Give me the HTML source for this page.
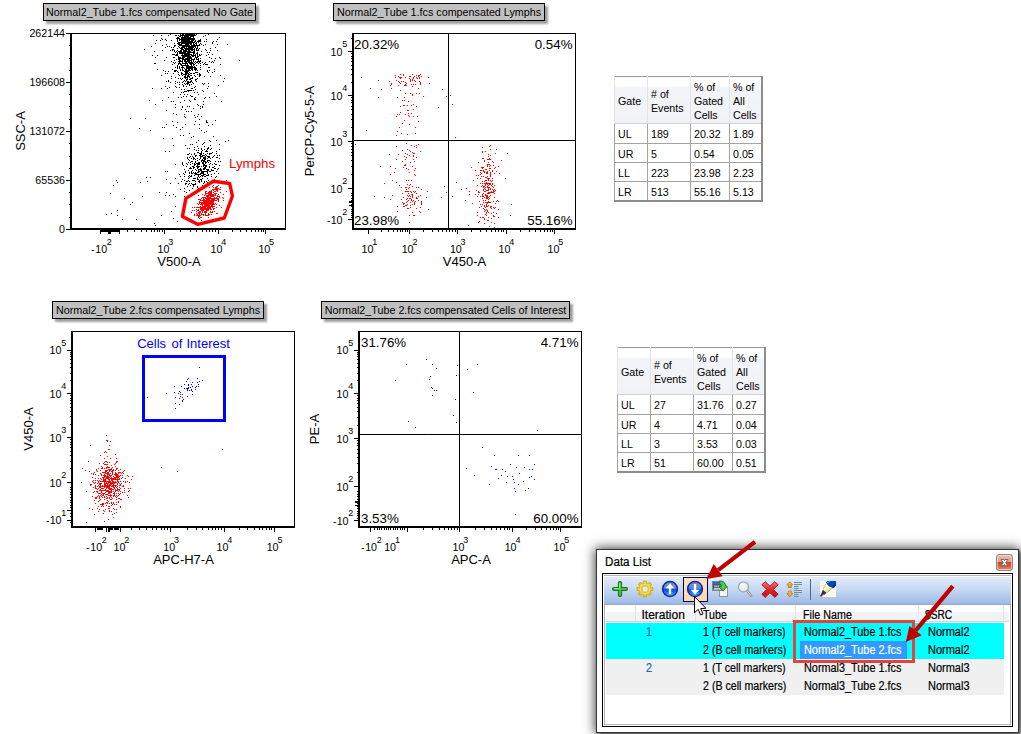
<!DOCTYPE html><html><head><meta charset="utf-8"><title>Data List</title><style>
html,body{margin:0;padding:0;background:#fff}
body{width:1021px;height:734px;position:relative;overflow:hidden;font-family:"Liberation Sans",sans-serif;color:#000}
.ttl{position:absolute;height:16px;border:1px solid #000;background:#c0c0c0;font-size:10.76px;line-height:17px;white-space:nowrap;box-shadow:3px 3px 2px rgba(0,0,0,.38);box-sizing:content-box;text-align:center}
table.st{position:absolute;border-collapse:collapse;font-size:10.67px;table-layout:fixed;border-right:2px solid #8c8c8c;border-bottom:2px solid #8c8c8c;border-left:1px solid #a0a0a0;border-top:1px solid #9a9a9a}
table.st td{border:1px solid #a3a3a3;padding:2px 0 0 3px;height:19.35px;box-sizing:border-box;white-space:nowrap;line-height:14px}
table.st th{font-weight:normal;text-align:left;padding:2px 0 0 3px;line-height:14px;height:47.2px;box-sizing:border-box;background:linear-gradient(#fff 0,#fff 18%,#f3f4f7 22%,#f1f2f6 100%);border-left:1px solid #e3e4e8;border-right:1px solid #e3e4e8;border-bottom:1px solid #d0d2d8;vertical-align:middle}
#dlg{position:absolute;left:596px;top:549px;width:423px;height:184px;box-sizing:border-box;border:1px solid #343434;background:#fff;box-shadow:0 0 11px 1px rgba(0,0,0,.75),2px 2px 3px rgba(0,0,0,.45)}
#dlg .cap{position:absolute;left:7.5px;top:5px;-webkit-text-stroke:.2px #000;font-size:12px;line-height:14px;transform:scaleX(.97);transform-origin:0 0;white-space:nowrap}
#dlg .close{position:absolute;left:399px;top:4px;width:17px;height:17px;box-sizing:border-box;border:1px solid #8c8684;border-radius:3px;background:linear-gradient(#f3bcae 0,#e59a86 45%,#c9481f 50%,#d9623c 75%,#e88a68 100%);box-shadow:inset 0 0 0 1px rgba(255,255,255,.5)}
#inner{position:absolute;left:5px;top:23px;width:411px;height:154px;box-sizing:border-box;border:1px solid #000;background:#fff}
#inner2{position:absolute;left:1px;top:31px;right:1px;bottom:1px;border-left:1px solid #b2b6be;border-right:1px solid #b2b6be;border-bottom:1px solid #b2b6be}
#tb{position:absolute;left:1px;top:0;right:1px;height:31px;background:linear-gradient(#fff 0,#fff 1px,#b4b4b4 1px,#b4b4b4 2px,#fff 2px,#fff 3px,#e3edfb 3px,#c2d5f1 17px,#9bb9e8 30px,#9aa8c0 30px,#9aa8c0 31px)}
#hdr{position:absolute;left:3px;top:31px;right:3px;height:16px;background:linear-gradient(#fff 0,#fff 7px,#f3f4f6 7px,#f1f2f4 16px);border-bottom:1px solid #d4d4d4}
.h{position:absolute;top:34px;font-size:12px;line-height:14px;white-space:nowrap;transform-origin:0 0;-webkit-text-stroke:.2px #000}
.hs{position:absolute;top:32px;width:1px;height:15px;background:#dfe2e8}
.row{position:absolute;left:2px;width:398px;height:18px}
.c{position:absolute;font-size:12px;line-height:18px;white-space:nowrap;transform:scaleX(.9);transform-origin:0 0;-webkit-text-stroke:.2px}
</style></head><body><svg width="1021" height="734" viewBox="0 0 1021 734" style="position:absolute;left:0;top:0" shape-rendering="crispEdges" font-family="Liberation Sans, sans-serif"><rect x="70" y="33" width="2" height="197" fill="#000"/><rect x="70" y="228" width="216" height="2" fill="#000"/><rect x="70" y="33" width="216" height="1" fill="#000"/><rect x="285" y="33" width="1" height="197" fill="#000"/><rect x="66" y="33" width="4" height="1" fill="#000"/><rect x="66" y="82" width="4" height="1" fill="#000"/><rect x="66" y="131" width="4" height="1" fill="#000"/><rect x="66" y="180" width="4" height="1" fill="#000"/><rect x="66" y="229" width="4" height="1" fill="#000"/><rect x="68.5" y="45" width="1.5" height="1" fill="#000"/><rect x="68.5" y="58" width="1.5" height="1" fill="#000"/><rect x="68.5" y="70" width="1.5" height="1" fill="#000"/><rect x="68.5" y="94" width="1.5" height="1" fill="#000"/><rect x="68.5" y="106" width="1.5" height="1" fill="#000"/><rect x="68.5" y="119" width="1.5" height="1" fill="#000"/><rect x="68.5" y="143" width="1.5" height="1" fill="#000"/><rect x="68.5" y="156" width="1.5" height="1" fill="#000"/><rect x="68.5" y="168" width="1.5" height="1" fill="#000"/><rect x="68.5" y="192" width="1.5" height="1" fill="#000"/><rect x="68.5" y="204" width="1.5" height="1" fill="#000"/><rect x="68.5" y="217" width="1.5" height="1" fill="#000"/><text x="65" y="37" font-size="10.67" text-anchor="end" fill="#000" >262144</text><text x="65" y="86" font-size="10.67" text-anchor="end" fill="#000" >196608</text><text x="65" y="135" font-size="10.67" text-anchor="end" fill="#000" >131072</text><text x="65" y="184" font-size="10.67" text-anchor="end" fill="#000" >65536</text><text x="65" y="233" font-size="10.67" text-anchor="end" fill="#000" >0</text><rect x="100" y="230" width="1" height="4" fill="#000"/><rect x="109" y="230" width="1" height="4" fill="#000"/><rect x="119" y="230" width="1" height="4" fill="#000"/><rect x="164" y="230" width="1" height="4" fill="#000"/><rect x="218" y="230" width="1" height="4" fill="#000"/><rect x="265" y="230" width="1" height="4" fill="#000"/><rect x="180" y="230" width="1" height="2" fill="#000"/><rect x="190" y="230" width="1" height="2" fill="#000"/><rect x="196" y="230" width="1" height="2" fill="#000"/><rect x="202" y="230" width="1" height="2" fill="#000"/><rect x="206" y="230" width="1" height="2" fill="#000"/><rect x="209" y="230" width="1" height="2" fill="#000"/><rect x="212" y="230" width="1" height="2" fill="#000"/><rect x="215" y="230" width="1" height="2" fill="#000"/><rect x="232" y="230" width="1" height="2" fill="#000"/><rect x="240" y="230" width="1" height="2" fill="#000"/><rect x="246" y="230" width="1" height="2" fill="#000"/><rect x="251" y="230" width="1" height="2" fill="#000"/><rect x="255" y="230" width="1" height="2" fill="#000"/><rect x="258" y="230" width="1" height="2" fill="#000"/><rect x="261" y="230" width="1" height="2" fill="#000"/><rect x="263" y="230" width="1" height="2" fill="#000"/><rect x="127" y="230" width="1" height="2" fill="#000"/><rect x="134" y="230" width="1" height="2" fill="#000"/><rect x="141" y="230" width="1" height="2" fill="#000"/><rect x="146" y="230" width="1" height="2" fill="#000"/><rect x="151" y="230" width="1" height="2" fill="#000"/><rect x="154" y="230" width="1" height="2" fill="#000"/><rect x="157" y="230" width="1" height="2" fill="#000"/><rect x="159" y="230" width="1" height="2" fill="#000"/><rect x="162" y="230" width="1" height="2" fill="#000"/><rect x="100.5" y="230" width="18.0" height="2" fill="#000"/><rect x="108" y="230" width="3" height="4" fill="#000"/><text x="91.1" y="253" font-size="10.67" text-anchor="start" fill="#000" >-</text><text x="95.3" y="253" font-size="10.67" text-anchor="start" fill="#000" >10</text><text x="106.8" y="245" font-size="9" text-anchor="start" fill="#000" >2</text><text x="157.5" y="253" font-size="10.67" text-anchor="start" fill="#000" >10</text><text x="168.2" y="245" font-size="9" text-anchor="start" fill="#000" >3</text><text x="210.6" y="253" font-size="10.67" text-anchor="start" fill="#000" >10</text><text x="221.3" y="245" font-size="9" text-anchor="start" fill="#000" >4</text><text x="258.4" y="253" font-size="10.67" text-anchor="start" fill="#000" >10</text><text x="269.1" y="245" font-size="9" text-anchor="start" fill="#000" >5</text><text x="179" y="266" font-size="13" text-anchor="middle" fill="#000" >V500-A</text><text transform="translate(25,131) rotate(-90)" font-size="13" text-anchor="middle">SSC-A</text><path d="M186 41h1M185 39h1M182 42h1M187 84h1M184 38h1M184 37h1M190 48h1M189 60h1M180 50h1M185 41h1M177 41h1M186 50h1M188 35h1M174 71h1M187 34h1M188 44h1M182 39h1M183 40h1M193 38h1M187 37h1M186 44h1M188 52h1M187 57h1M187 58h1M194 62h1M179 62h1M191 66h1M188 37h1M197 56h1M181 44h1M187 40h1M190 57h1M194 59h1M183 38h1M188 36h1M188 48h1M181 35h1M184 52h1M186 73h1M192 39h1M177 65h1M185 44h1M194 52h1M191 64h1M186 34h1M195 45h1M185 52h1M185 62h1M189 63h1M186 63h1M186 66h1M181 53h1M185 38h1M193 46h1M192 67h1M187 53h1M190 44h1M180 58h1M178 46h1M199 44h1M183 63h1M190 79h1M191 45h1M187 55h1M188 43h1M183 55h1M188 46h1M187 38h1M184 94h1M177 66h1M181 39h1M189 38h1M176 54h1M191 57h1M178 64h1M191 46h1M188 50h1M179 51h1M193 67h1M194 48h1M187 60h1M186 69h1M186 43h1M187 70h1M184 63h1M180 51h1M194 73h1M186 59h1M192 38h1M187 36h1M183 42h1M185 43h1M187 39h1M185 71h1M180 45h1M196 44h1M184 56h1M189 55h1M179 61h1M178 43h1M187 44h1M183 70h1M189 45h1M184 45h1M181 67h1M181 74h1M194 41h1M184 36h1M185 91h1M184 54h1M190 64h1M185 50h1M187 65h1M191 36h1M184 57h1M180 48h1M192 47h1M190 41h1M190 43h1M192 48h1M197 78h1M178 57h1M182 34h1M187 72h1M191 34h1M187 46h1M183 50h1M182 52h1M178 51h1M189 48h1M182 35h1M182 54h1M188 70h1M189 90h1M198 58h1M180 63h1M192 59h1M187 43h1M179 52h1M187 94h1M185 75h1M187 68h1M176 70h1M177 40h1M181 42h1M193 37h1M188 38h1M187 77h1M191 63h1M188 34h1M182 57h1M183 35h1M180 42h1M186 71h1M180 44h1M191 68h1M189 85h1M173 49h1M181 55h1M186 46h1M186 45h1M193 52h1M178 37h1M192 42h1M192 49h1M186 54h1M186 72h1M187 56h1M190 68h1M184 68h1M190 90h1M181 43h1M186 49h1M179 63h1M186 42h1M183 85h1M183 45h1M185 65h1M181 45h1M194 38h1M182 60h1M193 90h1M195 56h1M188 39h1M190 37h1M195 54h1M182 36h1M184 71h1M189 50h1M186 74h1M188 55h1M189 68h1M185 35h1M187 54h1M188 91h1M190 62h1M197 72h1M177 48h1M186 37h1M185 49h1M199 62h1M188 54h1M181 38h1M187 51h1M186 48h1M181 97h1M193 59h1M193 47h1M190 67h1M185 69h1M180 36h1M191 42h1M188 53h1M192 40h1M182 70h1M177 68h1M194 42h1M190 70h1M194 46h1M181 64h1M200 58h1M186 40h1M195 41h1M178 78h1M185 40h1M193 54h1M189 53h1M182 37h1M183 56h1M182 47h1M180 64h1M179 82h1M191 48h1M183 37h1M183 34h1M187 52h1M181 61h1M193 44h1M179 60h1M190 46h1M189 42h1M182 48h1M177 43h1M185 46h1M187 45h1M197 57h1M179 36h1M182 62h1M191 44h1M185 81h1M181 37h1M192 52h1M186 79h1M179 44h1M182 68h1M194 45h1M191 52h1M182 38h1M177 39h1M187 35h1M183 46h1M188 69h1M186 56h1M182 55h1M180 34h1M182 40h1M186 51h1M184 51h1M188 49h1M185 64h1M189 46h1M188 60h1M188 47h1M184 43h1M188 67h1M179 43h1M190 42h1M192 35h1M186 47h1M174 45h1M179 38h1M180 52h1M195 57h1M186 53h1M180 35h1M188 83h1M190 63h1M193 73h1M189 62h1M182 61h1M178 56h1M189 37h1M184 59h1M175 83h1M184 74h1M187 49h1M173 47h1M196 59h1M193 43h1M184 46h1M187 42h1M192 62h1M197 53h1M187 48h1M188 57h1M194 49h1M186 58h1M190 47h1M185 54h1M193 53h1M188 75h1M182 67h1M185 59h1M184 61h1M199 76h1M197 46h1M195 47h1M189 61h1M188 51h1M193 51h1M191 47h1M182 41h1M185 60h1M200 60h1M192 70h1M198 59h1M185 61h1M193 40h1M190 56h1M197 50h1M196 48h1M176 59h1M191 59h1M178 35h1M189 79h1M185 34h1M175 81h1M188 58h1M197 47h1M178 74h1M181 51h1M189 35h1M189 51h1M178 59h1M187 67h1M197 55h1M194 35h1M191 39h1M195 40h1M187 61h1M185 37h1M190 78h1M191 65h1M181 49h1M186 39h1M192 82h1M195 46h1M184 40h1M195 80h1M184 53h1M190 75h1M190 34h1M194 39h1M179 58h1M182 43h1M176 38h1M195 69h1M182 49h1M177 53h1M189 47h1M193 45h1M189 59h1M190 39h1M183 52h1M192 34h1M200 41h1M185 73h1M181 40h1M182 75h1M182 66h1M185 45h1M186 91h1M178 42h1M195 55h1M200 39h1M191 54h1M193 65h1M178 44h1M188 59h1M192 36h1M198 40h1M196 65h1M186 80h1M181 72h1M193 56h1M199 55h1M198 50h1M188 40h1M194 50h1M188 68h1M184 41h1M191 40h1M185 76h1M186 70h1M184 60h1M181 73h1M180 60h1M192 78h1M191 80h1M184 76h1M185 70h1M193 39h1M192 50h1M193 34h1M199 41h1M197 62h1M196 58h1M177 38h1M190 36h1M191 49h1M175 55h1M189 41h1M179 87h1M187 64h1M186 62h1M189 49h1M189 52h1M185 51h1M198 49h1M189 69h1M196 49h1M192 56h1M185 74h1M186 35h1M183 49h1M186 67h1M188 45h1M187 75h1M190 52h1M196 34h1M190 54h1M191 41h1M196 42h1M177 67h1M183 57h1M193 49h1M181 89h1M185 58h1M192 45h1M185 77h1M179 47h1M191 43h1M197 48h1M192 68h1M193 83h1M183 59h1M182 59h1M181 58h1M186 38h1M187 76h1M182 63h1M184 80h1M198 60h1M179 68h1M189 67h1M185 42h1M185 36h1M186 68h1M192 77h1M194 34h1M183 47h1M184 35h1M193 42h1M177 54h1M193 64h1M196 43h1M192 55h1M200 43h1M188 65h1M190 60h1M184 55h1M188 42h1M172 50h1M179 42h1M185 53h1M183 74h1M187 82h1M186 61h1M190 49h1M188 71h1M194 64h1M193 36h1M185 78h1M181 41h1M182 69h1M186 65h1M191 67h1M198 41h1M191 50h1M188 41h1M183 51h1M181 92h1M182 45h1M187 41h1M188 56h1M190 73h1M184 42h1M187 78h1M189 56h1M183 67h1M186 36h1M197 70h1M188 62h1M189 40h1M177 37h1M193 61h1M185 63h1M190 51h1M190 58h1M192 41h1M184 91h1M179 75h1M187 66h1M180 57h1M194 67h1M189 54h1M191 69h1M183 41h1M189 66h1M184 65h1M191 61h1M187 71h1M191 58h1M188 74h1M189 39h1M191 73h1M189 57h1M192 46h1M179 45h1M195 63h1M181 52h1M178 58h1M186 83h1M178 61h1M179 66h1M192 69h1M196 68h1M185 56h1M182 56h1M185 48h1M182 82h1M191 35h1M187 63h1M197 45h1M182 73h1M186 86h1M175 52h1M194 53h1M191 60h1M184 50h1M189 34h1M181 50h1M194 69h1M190 82h1M182 53h1M185 84h1M187 83h1M187 59h1M185 55h1M189 72h1M182 46h1M189 58h1M195 67h1M184 83h1M184 100h1M197 59h1M194 55h1M188 81h1M183 81h1M181 48h1M193 63h1M193 35h1M190 66h1M196 72h1M181 47h1M182 84h1M189 43h1M200 63h1M183 53h1M184 47h1M185 72h1M183 58h1M184 89h1M181 65h1M196 57h1M180 53h1M188 76h1M195 43h1M188 82h1M189 77h1M180 61h1M193 60h1M180 39h1M186 77h1M193 55h1M186 55h1M192 66h1M194 44h1M219 57h1M175 67h1M206 50h1M199 61h1M195 35h1M197 61h1M214 71h1M199 75h1M195 70h1M209 61h1M203 64h1M194 68h1M217 44h1M197 52h1M172 64h1M191 81h1M189 82h1M192 96h1M174 51h1M178 72h1M169 87h1M189 84h1M205 44h1M208 83h1M175 70h1M186 96h1M161 88h1M199 45h1M166 44h1M208 54h1M205 49h1M182 106h1M208 67h1M184 39h1M213 62h1M177 82h1M174 63h1M188 61h1M182 58h1M177 52h1M209 70h1M161 75h1M199 74h1M214 69h1M167 88h1M200 65h1M179 67h1M205 64h1M179 84h1M166 81h1M171 101h1M179 57h1M173 54h1M208 72h1M210 50h1M212 61h1M197 74h1M157 69h1M171 40h1M195 76h1M176 51h1M183 39h1M174 57h1M174 60h1M178 63h1M217 50h1M161 35h1M189 100h1M188 66h1M191 75h1M173 57h1M176 55h1M192 88h1M172 69h1M197 41h1M161 38h1M216 41h1M206 55h1M179 39h1M224 78h1M172 54h1M203 36h1M172 49h1M227 44h1M175 35h1M200 40h1M170 34h1M196 62h1M191 38h1M207 64h1M205 35h1M194 58h1M171 76h1M187 73h1M176 87h1M214 60h1M223 81h1M183 43h1M209 52h1M196 53h1M191 62h1M200 74h1M178 38h1M191 88h1M207 70h1M174 54h1M157 55h1M165 73h1M208 34h1M173 62h1M162 39h1M215 47h1M168 97h1M191 55h1M180 69h1M160 40h1M204 76h1M183 96h1M189 76h1M183 65h1M194 51h1M219 37h1M192 63h1M177 71h1M220 75h1M151 46h1M200 75h1M171 78h1M196 79h1M215 58h1M174 50h1M164 60h1M184 48h1M154 63h1M212 42h1M207 71h1M182 78h1M213 41h1M212 43h1M155 57h1M174 43h1M217 39h1M183 86h1M167 46h1M187 90h1M184 77h1M176 35h1M195 86h1M198 45h1M195 68h1M206 64h1M211 58h1M182 107h1M203 45h1M197 54h1M165 39h1M195 72h1M201 44h1M202 62h1M168 35h1M206 39h1M180 78h1M156 40h1M174 70h1M196 69h1M190 35h1M204 83h1M195 79h1M179 40h1M199 54h1M194 75h1M189 70h1M216 96h1M153 35h1M154 51h1M194 99h1M198 42h1M177 50h1M201 51h1M165 71h1M220 58h1M170 82h1M196 45h1M194 66h1M209 67h1M163 70h1M199 40h1M200 55h1M175 77h1M170 50h1M175 86h1M199 48h1M155 63h1M200 61h1M173 101h1M173 73h1M169 46h1M212 72h1M187 81h1M167 73h1M212 54h1M201 54h1M200 67h1M189 74h1M191 78h1M174 46h1M205 62h1M155 43h1M210 48h1M239 60h1M180 70h1M181 79h1M195 61h1M196 50h1M166 40h1M198 56h1M165 47h1M177 55h1M166 57h1M190 38h1M171 61h1M179 59h1M175 45h1M204 41h1M149 100h1M162 45h1M179 53h1M191 90h1M175 71h1M220 64h1M204 63h1M207 52h1M168 71h1M171 47h1M206 41h1M191 137h1M201 116h1M194 87h1M198 105h1M166 124h1M204 132h1M218 85h1M206 122h1M186 111h1M180 129h1M193 136h1M178 97h1M199 73h1M184 114h1M202 144h1M206 120h1M166 110h1M194 158h1M173 125h1M183 92h1M187 106h1M202 107h1M172 138h1M203 84h1M214 93h1M197 116h1M190 95h1M176 114h1M196 81h1M195 97h1M199 128h1M221 101h1M199 119h1M195 117h1M209 97h1M176 127h1M185 109h1M182 127h1M198 61h1M208 86h1M185 117h1M197 104h1M200 108h1M177 122h1M194 98h1M198 114h1M193 108h1M209 57h1M205 97h1M180 135h1M191 96h1M180 102h1M197 92h1M180 94h1M201 130h1M195 99h1M202 83h1M173 92h1M211 62h1M207 122h1M195 121h1M198 63h1M212 124h1M194 115h1M207 88h1M172 121h1M200 69h1M187 79h1M188 73h1M190 81h1M194 124h1M210 76h1M168 80h1M191 84h1M181 109h1M204 98h1M185 124h1M195 89h1M198 94h1M202 106h1M191 111h1M173 145h1M194 92h1M200 106h1M183 135h1M203 91h1M165 86h1M168 81h1M173 113h1M184 116h1M190 101h1M189 106h1M189 133h1M199 124h1M175 104h1M175 107h1M215 120h1M162 100h1M188 90h1M198 164h1M188 178h1M201 169h1M197 164h1M205 163h1M194 163h1M198 174h1M194 178h1M193 168h1M207 182h1M198 150h1M205 161h1M193 186h1M202 160h1M189 153h1M198 181h1M197 172h1M206 150h1M203 172h1M200 154h1M207 148h1M203 162h1M205 158h1M207 151h1M201 161h1M199 155h1M204 164h1M198 166h1M204 171h1M209 156h1M208 148h1M198 152h1M192 166h1M201 181h1M200 174h1M209 154h1M198 176h1M200 153h1M207 173h1M198 162h1M200 173h1M214 166h1M212 157h1M206 166h1M203 153h1M194 167h1M205 174h1M203 171h1M197 167h1M201 154h1M200 176h1M204 146h1M212 152h1M204 167h1M189 157h1M194 184h1M189 181h1M195 161h1M205 157h1M204 149h1M197 152h1M203 168h1M195 174h1M191 173h1M191 172h1M195 162h1M212 164h1M191 154h1M210 161h1M211 176h1M200 179h1M201 160h1M197 163h1M201 179h1M206 181h1M201 149h1M209 157h1M210 163h1M204 176h1M204 155h1M201 172h1M204 160h1M193 193h1M204 168h1M203 163h1M195 164h1M217 169h1M194 175h1M195 156h1M203 166h1M187 157h1M195 159h1M190 156h1M194 154h1M200 158h1M209 167h1M207 170h1M210 158h1M206 151h1M198 175h1M209 140h1M197 146h1M196 174h1M213 167h1M207 172h1M207 149h1M208 156h1M191 175h1M200 157h1M192 161h1M202 150h1M196 155h1M211 169h1M205 168h1M195 155h1M201 153h1M192 163h1M201 170h1M205 151h1M187 148h1M199 153h1M205 167h1M203 173h1M210 149h1M191 161h1M205 171h1M196 163h1M203 158h1M204 169h1M206 165h1M197 178h1M202 172h1M190 168h1M205 162h1M201 151h1M189 160h1M195 178h1M201 148h1M213 170h1M209 164h1M207 161h1M188 176h1M200 170h1M205 176h1M204 159h1M204 161h1M199 163h1M214 179h1M212 170h1M200 155h1M194 164h1M216 151h1M194 149h1M203 175h1M198 171h1M205 156h1M216 153h1M201 175h1M210 145h1M199 180h1M218 173h1M195 172h1M197 179h1M201 171h1M193 180h1M185 172h1M209 153h1M197 174h1M198 188h1M194 147h1M193 166h1M202 175h1M219 144h1M207 160h1M207 185h1M190 185h1M201 156h1M192 184h1M207 175h1M199 174h1M200 168h1M197 158h1M190 164h1M191 171h1M192 188h1M199 162h1M196 142h1M203 161h1M203 165h1M207 178h1M187 164h1M194 165h1M192 156h1M201 180h1M198 140h1M205 154h1M209 166h1M184 169h1M201 173h1M216 157h1M208 157h1M202 162h1M193 157h1M206 155h1M208 169h1M196 173h1M199 166h1M203 157h1M198 148h1M213 156h1M217 155h1M200 156h1M215 161h1M197 160h1M184 191h1M208 170h1M198 179h1M219 158h1M204 174h1M202 173h1M188 184h1M208 125h1M208 147h1M202 171h1M204 158h1M208 174h1M202 178h1M214 155h1M199 181h1M197 186h1M198 172h1M182 163h1M195 183h1M209 160h1M203 160h1M195 169h1M186 183h1M206 169h1M208 160h1M215 168h1M189 168h1M186 166h1M206 175h1M203 164h1M197 165h1M199 171h1M207 171h1M214 168h1M189 175h1M211 170h1M206 171h1M206 131h1M202 155h1M219 149h1M202 163h1M205 165h1M187 181h1M196 166h1M201 166h1M204 182h1M214 163h1M193 185h1M198 170h1M203 143h1M192 173h1M205 159h1M206 162h1M199 177h1M215 164h1M203 174h1M194 173h1M189 172h1M196 170h1M199 169h1M198 163h1M207 158h1M183 173h1M193 159h1M187 158h1M211 174h1M193 167h1M208 162h1M198 167h1M186 163h1M210 171h1M204 157h1M210 141h1M209 171h1M194 180h1M187 154h1M182 179h1M197 177h1M167 171h1M190 176h1M188 180h1M207 169h1M185 145h1M188 159h1M169 151h1M165 171h1M195 181h1M188 162h1M186 181h1M182 164h1M193 158h1M165 195h1M207 153h1M191 183h1M193 184h1M216 140h1M211 148h1M196 150h1M203 155h1M188 154h1M212 167h1M208 175h1M203 169h1M192 170h1M204 181h1M184 188h1M197 168h1M191 168h1M189 173h1M205 186h1M202 176h1M216 164h1M175 178h1M192 144h1M202 188h1M193 178h1M189 190h1M197 187h1M203 183h1M202 156h1M192 180h1M201 152h1M175 164h1M186 192h1M194 153h1M185 171h1M200 169h1M175 196h1M182 162h1M218 168h1M190 144h1M191 176h1M197 189h1M195 184h1M216 171h1M199 182h1M211 153h1M184 174h1M218 161h1M185 183h1M207 156h1M202 159h1M226 180h1M193 172h1M199 159h1M208 180h1M180 176h1M184 196h1M215 177h1M205 166h1M183 165h1M210 153h1M189 183h1M195 173h1M173 194h1M206 121h1M204 142h1M184 180h1M189 177h1M220 161h1M213 136h1M187 186h1M219 155h1M217 157h1M189 148h1M197 166h1M184 176h1M191 158h1M190 167h1M190 162h1M179 174h1M216 176h1M166 192h1M188 170h1M178 183h1M185 184h1M199 164h1M214 173h1M202 185h1M204 165h1M181 181h1M154 223h1M111 213h1M147 181h1M170 183h1M166 179h1M159 192h1M106 214h1M140 182h1M124 198h1M146 177h1M117 210h1M116 180h1M181 215h1M175 206h1M113 185h1M171 211h1M110 193h1M132 202h1M185 203h1M180 189h1M142 196h1M161 215h1M136 219h1M173 218h1M130 204h1M122 219h1M117 182h1M155 225h1M150 177h1M177 221h1M117 215h1M169 195h1M163 138h1M202 90h1M150 130h1M203 101h1M155 104h1M203 104h1M152 88h1M182 65h1M219 165h1M175 62h1M228 140h1M188 111h1M165 151h1M225 141h1M162 127h1M198 169h1M144 49h1M164 127h1M145 118h1M162 50h1M152 55h1M130 118h1M139 128h1" stroke="#000" stroke-width="1" fill="none" transform="translate(0,.5)"/><path d="M212 199h1M209 200h1M205 206h1M211 204h1M210 203h1M198 212h1M211 203h1M208 203h1M206 204h1M205 207h1M216 186h1M215 203h1M217 188h1M202 212h1M204 206h1M212 205h1M201 208h1M204 201h1M198 216h1M217 196h1M213 199h1M210 201h1M209 207h1M205 209h1M206 206h1M211 192h1M204 204h1M214 198h1M205 215h1M203 209h1M214 197h1M207 210h1M210 200h1M205 204h1M196 213h1M210 192h1M201 214h1M213 201h1M200 208h1M198 204h1M209 203h1M210 209h1M208 199h1M201 202h1M212 201h1M200 200h1M205 192h1M206 201h1M212 198h1M204 202h1M210 202h1M211 199h1M199 207h1M202 205h1M206 208h1M205 211h1M198 215h1M211 194h1M207 202h1M201 210h1M208 194h1M205 213h1M207 200h1M211 201h1M205 203h1M215 193h1M196 215h1M210 193h1M200 206h1M208 210h1M203 201h1M208 207h1M207 198h1M206 205h1M218 200h1M208 202h1M203 200h1M212 200h1M212 211h1M214 189h1M216 198h1M203 207h1M213 198h1M213 196h1M208 201h1M209 208h1M205 200h1M216 204h1M199 203h1M210 207h1M199 216h1M207 215h1M217 191h1M214 204h1M194 215h1M209 204h1M206 196h1M207 196h1M223 194h1M206 195h1M203 215h1M207 206h1M211 198h1M201 207h1M207 209h1M205 212h1M213 200h1M203 198h1M209 205h1M217 199h1M215 194h1M207 208h1M212 206h1M200 215h1M209 192h1M210 198h1M207 201h1M212 194h1M207 203h1M204 211h1M215 198h1M216 197h1M209 202h1M207 204h1M201 217h1M209 187h1M200 211h1M210 195h1M200 199h1M215 195h1M208 196h1M202 211h1M214 193h1M213 208h1M219 189h1M202 204h1M209 195h1M202 209h1M209 214h1M202 200h1M203 214h1M201 198h1M215 188h1M201 203h1M204 212h1M206 202h1M206 203h1M208 209h1M212 195h1M211 209h1M197 207h1M218 198h1M209 191h1M205 198h1M202 202h1M206 209h1M206 199h1M204 208h1M200 207h1M206 215h1M208 197h1M201 213h1M199 211h1M203 208h1M211 205h1M207 193h1M206 200h1M211 202h1M205 191h1M212 202h1M213 195h1M211 193h1M212 207h1M210 208h1M208 217h1M220 187h1M206 198h1M202 214h1M199 218h1M209 197h1M208 208h1M209 201h1M202 207h1M197 214h1M211 196h1M204 207h1M205 205h1M215 189h1M215 191h1M204 199h1M212 203h1M208 195h1M208 193h1M207 205h1M210 211h1M208 204h1M204 205h1M200 209h1M204 203h1M208 214h1M213 187h1M208 205h1M196 209h1M208 200h1M203 210h1M218 188h1M203 203h1M211 200h1M213 192h1M208 198h1M211 195h1M212 204h1M204 197h1M212 186h1M211 191h1M208 192h1M200 212h1M212 189h1M212 212h1M209 199h1M206 212h1M216 187h1M216 188h1M217 190h1M203 197h1M213 194h1M210 204h1M214 199h1M210 212h1M217 186h1M213 189h1M213 209h1M214 206h1M206 210h1M209 198h1M205 208h1M210 196h1M205 202h1M199 213h1M196 211h1M198 217h1M198 213h1M215 187h1M205 197h1M216 200h1M217 189h1M219 196h1M201 209h1M204 200h1M206 193h1M205 214h1M201 204h1M200 217h1M209 194h1M218 194h1M217 198h1M210 206h1M207 197h1M208 206h1M197 210h1M216 190h1M213 202h1M201 200h1M204 195h1M201 220h1M209 206h1M212 196h1M203 206h1M205 201h1M216 193h1M209 193h1M218 185h1M207 199h1M208 215h1M210 194h1M206 191h1M213 206h1M197 215h1M207 195h1M198 210h1M205 193h1M199 214h1M203 199h1M218 199h1M205 194h1M207 207h1M216 189h1M218 196h1M199 212h1M199 215h1M213 190h1M214 200h1M220 192h1M202 203h1M200 202h1M214 191h1M210 197h1M198 207h1M197 203h1M213 185h1M213 203h1M198 209h1M218 201h1M219 197h1M199 201h1M217 195h1M192 210h1M203 202h1M196 207h1M199 199h1M198 195h1M211 214h1M217 213h1M219 205h1M199 202h1M216 207h1M214 195h1M223 200h1M198 199h1M194 207h1M214 208h1M206 211h1M223 198h1M204 209h1M222 197h1M202 194h1M194 214h1M216 213h1M211 190h1M208 213h1M200 204h1M211 206h1M221 207h1M202 206h1M220 189h1M213 204h1M192 207h1M215 200h1M210 191h1M202 210h1M194 210h1M226 191h1M211 212h1M202 208h1M214 211h1M191 212h1M202 197h1" stroke="#f00" stroke-width="1" fill="none" transform="translate(0,.5)"/><polygon points="213.3,181.2 229.7,183.5 232.4,196 224.3,218 197.6,224.3 182.4,216.4 185.9,198.4" fill="none" stroke="#f00" stroke-width="3.4" stroke-linejoin="round" shape-rendering="auto"/><text x="229" y="168" font-size="13.33" text-anchor="start" fill="#f00" >Lymphs</text><rect x="352" y="33" width="2" height="197" fill="#000"/><rect x="352" y="228" width="224" height="2" fill="#000"/><rect x="352" y="33" width="224" height="1" fill="#000"/><rect x="575" y="33" width="1" height="197" fill="#000"/><rect x="448" y="33" width="1" height="195" fill="#000"/><rect x="352" y="140" width="223" height="1" fill="#000"/><rect x="348" y="51" width="4" height="1" fill="#000"/><rect x="348" y="95" width="4" height="1" fill="#000"/><rect x="348" y="141" width="4" height="1" fill="#000"/><rect x="348" y="188" width="4" height="1" fill="#000"/><rect x="348" y="219" width="4" height="1" fill="#000"/><rect x="350.5" y="82" width="1.5" height="1" fill="#000"/><rect x="350.5" y="74" width="1.5" height="1" fill="#000"/><rect x="350.5" y="69" width="1.5" height="1" fill="#000"/><rect x="350.5" y="65" width="1.5" height="1" fill="#000"/><rect x="350.5" y="61" width="1.5" height="1" fill="#000"/><rect x="350.5" y="58" width="1.5" height="1" fill="#000"/><rect x="350.5" y="56" width="1.5" height="1" fill="#000"/><rect x="350.5" y="53" width="1.5" height="1" fill="#000"/><rect x="350.5" y="127" width="1.5" height="1" fill="#000"/><rect x="350.5" y="119" width="1.5" height="1" fill="#000"/><rect x="350.5" y="114" width="1.5" height="1" fill="#000"/><rect x="350.5" y="109" width="1.5" height="1" fill="#000"/><rect x="350.5" y="106" width="1.5" height="1" fill="#000"/><rect x="350.5" y="102" width="1.5" height="1" fill="#000"/><rect x="350.5" y="100" width="1.5" height="1" fill="#000"/><rect x="350.5" y="97" width="1.5" height="1" fill="#000"/><rect x="350.5" y="174" width="1.5" height="1" fill="#000"/><rect x="350.5" y="166" width="1.5" height="1" fill="#000"/><rect x="350.5" y="160" width="1.5" height="1" fill="#000"/><rect x="350.5" y="155" width="1.5" height="1" fill="#000"/><rect x="350.5" y="152" width="1.5" height="1" fill="#000"/><rect x="350.5" y="149" width="1.5" height="1" fill="#000"/><rect x="350.5" y="146" width="1.5" height="1" fill="#000"/><rect x="350.5" y="143" width="1.5" height="1" fill="#000"/><rect x="350.5" y="38" width="1.5" height="1" fill="#000"/><rect x="350.5" y="193" width="1.5" height="1" fill="#000"/><rect x="350.5" y="195" width="1.5" height="1" fill="#000"/><rect x="350.5" y="198" width="1.5" height="1" fill="#000"/><rect x="350.5" y="200" width="1.5" height="1" fill="#000"/><rect x="350.5" y="202" width="1.5" height="1" fill="#000"/><rect x="350.5" y="204" width="1.5" height="1" fill="#000"/><rect x="350.5" y="206" width="1.5" height="1" fill="#000"/><rect x="350.5" y="209" width="1.5" height="1" fill="#000"/><rect x="350.5" y="211" width="1.5" height="1" fill="#000"/><rect x="350.5" y="213" width="1.5" height="1" fill="#000"/><rect x="350.5" y="215" width="1.5" height="1" fill="#000"/><rect x="350.5" y="217" width="1.5" height="1" fill="#000"/><rect x="349" y="201" width="3" height="2" fill="#000"/><rect x="349" y="205" width="3" height="1" fill="#000"/><text x="330.6" y="56.0" font-size="10.67" text-anchor="start" fill="#000" >10</text><text x="342.2" y="47.4" font-size="9" text-anchor="start" fill="#000" >5</text><text x="330.6" y="99.89999999999999" font-size="10.67" text-anchor="start" fill="#000" >10</text><text x="342.2" y="91.3" font-size="9" text-anchor="start" fill="#000" >4</text><text x="330.6" y="145.9" font-size="10.67" text-anchor="start" fill="#000" >10</text><text x="342.2" y="137.3" font-size="9" text-anchor="start" fill="#000" >3</text><text x="330.6" y="193.0" font-size="10.67" text-anchor="start" fill="#000" >10</text><text x="342.2" y="184.4" font-size="9" text-anchor="start" fill="#000" >2</text><text x="327.1" y="223.9" font-size="10.67" text-anchor="start" fill="#000" >-10</text><text x="342.2" y="215.3" font-size="9" text-anchor="start" fill="#000" >2</text><rect x="368" y="230" width="1" height="4" fill="#000"/><rect x="409" y="230" width="1" height="4" fill="#000"/><rect x="457" y="230" width="1" height="4" fill="#000"/><rect x="506" y="230" width="1" height="4" fill="#000"/><rect x="554" y="230" width="1" height="4" fill="#000"/><rect x="381" y="230" width="1" height="2" fill="#000"/><rect x="388" y="230" width="1" height="2" fill="#000"/><rect x="393" y="230" width="1" height="2" fill="#000"/><rect x="397" y="230" width="1" height="2" fill="#000"/><rect x="400" y="230" width="1" height="2" fill="#000"/><rect x="402" y="230" width="1" height="2" fill="#000"/><rect x="405" y="230" width="1" height="2" fill="#000"/><rect x="407" y="230" width="1" height="2" fill="#000"/><rect x="423" y="230" width="1" height="2" fill="#000"/><rect x="432" y="230" width="1" height="2" fill="#000"/><rect x="438" y="230" width="1" height="2" fill="#000"/><rect x="442" y="230" width="1" height="2" fill="#000"/><rect x="446" y="230" width="1" height="2" fill="#000"/><rect x="449" y="230" width="1" height="2" fill="#000"/><rect x="452" y="230" width="1" height="2" fill="#000"/><rect x="455" y="230" width="1" height="2" fill="#000"/><rect x="471" y="230" width="1" height="2" fill="#000"/><rect x="480" y="230" width="1" height="2" fill="#000"/><rect x="486" y="230" width="1" height="2" fill="#000"/><rect x="491" y="230" width="1" height="2" fill="#000"/><rect x="495" y="230" width="1" height="2" fill="#000"/><rect x="498" y="230" width="1" height="2" fill="#000"/><rect x="501" y="230" width="1" height="2" fill="#000"/><rect x="503" y="230" width="1" height="2" fill="#000"/><rect x="520" y="230" width="1" height="2" fill="#000"/><rect x="529" y="230" width="1" height="2" fill="#000"/><rect x="535" y="230" width="1" height="2" fill="#000"/><rect x="540" y="230" width="1" height="2" fill="#000"/><rect x="544" y="230" width="1" height="2" fill="#000"/><rect x="547" y="230" width="1" height="2" fill="#000"/><rect x="550" y="230" width="1" height="2" fill="#000"/><rect x="552" y="230" width="1" height="2" fill="#000"/><text x="361.6" y="253" font-size="10.67" text-anchor="start" fill="#000" >10</text><text x="372.3" y="245" font-size="9" text-anchor="start" fill="#000" >1</text><text x="401.7" y="253" font-size="10.67" text-anchor="start" fill="#000" >10</text><text x="412.4" y="245" font-size="9" text-anchor="start" fill="#000" >2</text><text x="449.9" y="253" font-size="10.67" text-anchor="start" fill="#000" >10</text><text x="460.6" y="245" font-size="9" text-anchor="start" fill="#000" >3</text><text x="498.6" y="253" font-size="10.67" text-anchor="start" fill="#000" >10</text><text x="509.3" y="245" font-size="9" text-anchor="start" fill="#000" >4</text><text x="547.5" y="253" font-size="10.67" text-anchor="start" fill="#000" >10</text><text x="558.2" y="245" font-size="9" text-anchor="start" fill="#000" >5</text><text x="464.5" y="265.5" font-size="13" text-anchor="middle" fill="#000" >V450-A</text><text transform="translate(314.2,131) rotate(-90)" font-size="13" text-anchor="middle">PerCP-Cy5-5-A</text><text x="354" y="49" font-size="13.33" text-anchor="start" fill="#000" >20.32%</text><text x="572.5" y="49" font-size="13.33" text-anchor="end" fill="#000" >0.54%</text><text x="354" y="225" font-size="13.33" text-anchor="start" fill="#000" >23.98%</text><text x="572.5" y="225" font-size="13.33" text-anchor="end" fill="#000" >55.16%</text><path d="M416 75h1M415 84h1M410 76h1M410 79h1M405 82h1M420 83h1M405 85h1M401 81h1M409 76h1M419 75h1M419 81h1M410 80h1M405 77h1M414 76h1M409 78h1M416 77h1M417 78h1M413 78h1M420 82h1M412 79h1M412 80h1M400 77h1M411 84h1M415 81h1M406 83h1M399 77h1M404 85h1M400 78h1M395 77h1M418 75h1M420 74h1M418 76h1M414 80h1M412 74h1M403 74h1M400 74h1M413 77h1M410 81h1M421 76h1M405 84h1M398 81h1M395 75h1M398 76h1M420 84h1M398 85h1M399 82h1M413 84h1M403 75h1M406 85h1M429 83h1M391 83h1M400 83h1M419 77h1M389 81h1M403 81h1M401 77h1M428 77h1M419 78h1M396 80h1M396 116h1M408 115h1M407 134h1M400 90h1M415 127h1M423 96h1M418 121h1M397 131h1M418 88h1M409 116h1M407 105h1M403 105h1M408 110h1M419 93h1M412 94h1M404 120h1M402 123h1M404 100h1M412 86h1M399 127h1M405 93h1M402 100h1M411 113h1M396 135h1M400 112h1M417 116h1M410 93h1M412 95h1M404 97h1M405 114h1M411 105h1M404 105h1M399 114h1M408 113h1M415 133h1M400 106h1M416 93h1M413 109h1M401 133h1M408 101h1M407 110h1M413 104h1M413 116h1M397 114h1M397 97h1M416 106h1M409 124h1M391 88h1M390 85h1M378 80h1M378 97h1M391 84h1M370 88h1M381 89h1M361 77h1M366 130h1M442 89h1M446 96h1M438 107h1M452 104h1M450 95h1M455 137h1M406 205h1M420 207h1M408 188h1M412 201h1M402 193h1M408 191h1M409 185h1M409 187h1M407 201h1M412 196h1M421 203h1M410 191h1M410 196h1M408 196h1M427 191h1M421 189h1M414 203h1M415 201h1M406 191h1M410 198h1M412 204h1M412 212h1M405 191h1M406 202h1M414 215h1M413 200h1M397 206h1M411 180h1M419 211h1M407 198h1M412 186h1M402 202h1M416 208h1M404 206h1M403 206h1M409 198h1M426 197h1M407 195h1M403 197h1M414 202h1M421 202h1M403 203h1M401 199h1M409 215h1M413 215h1M413 191h1M418 196h1M401 187h1M406 189h1M410 202h1M416 193h1M414 192h1M404 203h1M416 197h1M417 198h1M428 209h1M421 204h1M403 204h1M407 191h1M406 199h1M408 193h1M405 205h1M407 204h1M408 208h1M415 191h1M410 207h1M411 200h1M420 195h1M412 197h1M411 199h1M411 194h1M414 204h1M406 187h1M418 200h1M421 201h1M418 187h1M408 200h1M408 180h1M412 195h1M416 198h1M410 205h1M409 195h1M420 212h1M407 208h1M415 168h1M410 162h1M402 161h1M412 152h1M414 161h1M405 187h1M394 172h1M412 194h1M410 151h1M396 146h1M408 169h1M406 168h1M413 153h1M413 159h1M395 168h1M404 165h1M414 174h1M418 144h1M392 180h1M406 143h1M412 166h1M416 145h1M420 151h1M399 185h1M404 156h1M398 154h1M413 156h1M396 159h1M416 187h1M414 146h1M411 145h1M390 174h1M396 182h1M405 164h1M406 157h1M414 153h1M409 150h1M409 155h1M403 167h1M407 184h1M406 180h1M413 155h1M405 153h1M415 175h1M416 157h1M405 159h1M416 147h1M407 149h1M414 170h1M402 150h1M407 154h1M405 165h1M374 196h1M410 184h1M390 166h1M390 199h1M389 154h1M384 197h1M380 166h1M411 192h1M397 211h1M392 195h1M409 172h1M384 183h1M355 144h1M444 186h1M446 192h1M441 197h1M409 222h1M486 202h1M482 198h1M482 158h1M487 196h1M490 172h1M479 201h1M487 187h1M489 178h1M488 190h1M483 170h1M492 184h1M482 185h1M490 176h1M494 185h1M478 162h1M488 188h1M489 159h1M488 189h1M484 186h1M486 190h1M481 170h1M490 175h1M484 181h1M483 167h1M485 202h1M487 171h1M487 195h1M487 164h1M487 184h1M481 173h1M475 194h1M490 174h1M493 165h1M481 186h1M484 160h1M488 164h1M491 191h1M490 149h1M493 191h1M487 173h1M489 164h1M489 183h1M485 189h1M492 170h1M491 192h1M485 191h1M492 178h1M482 167h1M475 170h1M483 190h1M490 189h1M485 184h1M488 202h1M480 174h1M494 173h1M490 173h1M487 210h1M489 146h1M489 184h1M493 187h1M488 180h1M480 217h1M486 198h1M493 192h1M490 165h1M485 187h1M490 183h1M480 172h1M490 206h1M486 196h1M496 149h1M486 197h1M488 197h1M485 177h1M484 172h1M487 190h1M481 167h1M478 192h1M493 162h1M487 165h1M492 180h1M488 156h1M490 188h1M490 159h1M482 195h1M492 171h1M483 189h1M488 183h1M499 173h1M495 153h1M485 169h1M490 168h1M487 206h1M489 196h1M483 158h1M483 193h1M483 187h1M490 192h1M484 171h1M483 176h1M482 183h1M485 183h1M488 179h1M486 169h1M495 167h1M485 185h1M478 194h1M488 185h1M487 166h1M488 192h1M480 183h1M492 189h1M487 198h1M480 178h1M489 170h1M493 212h1M485 195h1M482 152h1M488 187h1M483 171h1M489 198h1M482 181h1M486 177h1M486 182h1M487 186h1M485 180h1M487 178h1M484 188h1M488 162h1M486 180h1M477 178h1M487 172h1M488 159h1M489 166h1M491 181h1M492 186h1M490 155h1M489 187h1M489 168h1M487 176h1M488 178h1M487 193h1M489 192h1M483 208h1M484 183h1M486 172h1M476 190h1M488 205h1M477 185h1M496 171h1M490 184h1M482 168h1M484 197h1M490 145h1M490 180h1M482 151h1M477 212h1M487 183h1M484 161h1M489 193h1M494 168h1M494 189h1M492 161h1M494 191h1M487 159h1M488 201h1M485 151h1M484 206h1M487 203h1M491 206h1M486 183h1M486 209h1M494 216h1M478 191h1M497 200h1M491 185h1M482 217h1M485 210h1M489 202h1M488 199h1M484 219h1M483 186h1M491 218h1M487 211h1M498 201h1M483 196h1M491 222h1M483 202h1M493 215h1M483 200h1M486 205h1M492 192h1M481 206h1M493 207h1M490 202h1M495 190h1M490 195h1M488 217h1M496 201h1M494 197h1M483 217h1M486 215h1M485 200h1M491 213h1M487 197h1M494 208h1M484 223h1M488 220h1M485 214h1M486 195h1M487 220h1M493 190h1M488 193h1M480 196h1M486 204h1M484 218h1M493 216h1M490 207h1M489 226h1M496 213h1M494 227h1M484 211h1M487 202h1M485 194h1M484 209h1M479 192h1M494 193h1M482 204h1M484 205h1M479 221h1M491 208h1M486 212h1M482 194h1M485 207h1M478 222h1M494 223h1M488 154h1M482 196h1M477 215h1M495 203h1M489 158h1M480 204h1M465 200h1M476 175h1M495 207h1M477 196h1M482 147h1M507 153h1M472 203h1M473 180h1M469 194h1M486 173h1M505 178h1M498 166h1M484 191h1M481 176h1M486 206h1M493 201h1M471 167h1M468 225h1M501 160h1M498 209h1M486 213h1M479 207h1M488 212h1M498 217h1M480 170h1M492 183h1M478 175h1M456 182h1M461 189h1M469 191h1M466 188h1M452 196h1M511 204h1M510 215h1" stroke="#f00" stroke-width="1" fill="none" transform="translate(0,.5)"/><rect x="71" y="331" width="2" height="197" fill="#000"/><rect x="71" y="526" width="224" height="2" fill="#000"/><rect x="71" y="331" width="224" height="1" fill="#000"/><rect x="294" y="331" width="1" height="197" fill="#000"/><rect x="67" y="350" width="4" height="1" fill="#000"/><rect x="67" y="393" width="4" height="1" fill="#000"/><rect x="67" y="437" width="4" height="1" fill="#000"/><rect x="67" y="482" width="4" height="1" fill="#000"/><rect x="67" y="510" width="4" height="1" fill="#000"/><rect x="67" y="520" width="4" height="1" fill="#000"/><rect x="69.5" y="380" width="1.5" height="1" fill="#000"/><rect x="69.5" y="373" width="1.5" height="1" fill="#000"/><rect x="69.5" y="367" width="1.5" height="1" fill="#000"/><rect x="69.5" y="363" width="1.5" height="1" fill="#000"/><rect x="69.5" y="359" width="1.5" height="1" fill="#000"/><rect x="69.5" y="356" width="1.5" height="1" fill="#000"/><rect x="69.5" y="354" width="1.5" height="1" fill="#000"/><rect x="69.5" y="352" width="1.5" height="1" fill="#000"/><rect x="69.5" y="424" width="1.5" height="1" fill="#000"/><rect x="69.5" y="416" width="1.5" height="1" fill="#000"/><rect x="69.5" y="411" width="1.5" height="1" fill="#000"/><rect x="69.5" y="407" width="1.5" height="1" fill="#000"/><rect x="69.5" y="403" width="1.5" height="1" fill="#000"/><rect x="69.5" y="400" width="1.5" height="1" fill="#000"/><rect x="69.5" y="398" width="1.5" height="1" fill="#000"/><rect x="69.5" y="395" width="1.5" height="1" fill="#000"/><rect x="69.5" y="468" width="1.5" height="1" fill="#000"/><rect x="69.5" y="461" width="1.5" height="1" fill="#000"/><rect x="69.5" y="455" width="1.5" height="1" fill="#000"/><rect x="69.5" y="451" width="1.5" height="1" fill="#000"/><rect x="69.5" y="447" width="1.5" height="1" fill="#000"/><rect x="69.5" y="444" width="1.5" height="1" fill="#000"/><rect x="69.5" y="442" width="1.5" height="1" fill="#000"/><rect x="69.5" y="439" width="1.5" height="1" fill="#000"/><rect x="69.5" y="487" width="1.5" height="1" fill="#000"/><rect x="69.5" y="489" width="1.5" height="1" fill="#000"/><rect x="69.5" y="492" width="1.5" height="1" fill="#000"/><rect x="69.5" y="494" width="1.5" height="1" fill="#000"/><rect x="69.5" y="497" width="1.5" height="1" fill="#000"/><rect x="69.5" y="500" width="1.5" height="1" fill="#000"/><rect x="69.5" y="502" width="1.5" height="1" fill="#000"/><rect x="69.5" y="505" width="1.5" height="1" fill="#000"/><rect x="69.5" y="507" width="1.5" height="1" fill="#000"/><rect x="69.5" y="513" width="1.5" height="1" fill="#000"/><rect x="69.5" y="516" width="1.5" height="1" fill="#000"/><rect x="69.5" y="522" width="1.5" height="1" fill="#000"/><text x="49.6" y="354.20000000000005" font-size="10.67" text-anchor="start" fill="#000" >10</text><text x="61.2" y="345.6" font-size="9" text-anchor="start" fill="#000" >5</text><text x="49.6" y="398.0" font-size="10.67" text-anchor="start" fill="#000" >10</text><text x="61.2" y="389.4" font-size="9" text-anchor="start" fill="#000" >4</text><text x="49.6" y="441.90000000000003" font-size="10.67" text-anchor="start" fill="#000" >10</text><text x="61.2" y="433.3" font-size="9" text-anchor="start" fill="#000" >3</text><text x="49.6" y="486.5" font-size="10.67" text-anchor="start" fill="#000" >10</text><text x="61.2" y="477.9" font-size="9" text-anchor="start" fill="#000" >2</text><text x="46.1" y="524.2" font-size="10.67" text-anchor="start" fill="#000" >-10</text><text x="61.2" y="515.6" font-size="9" text-anchor="start" fill="#000" >1</text><rect x="95" y="528" width="1" height="4" fill="#000"/><rect x="120" y="528" width="1" height="4" fill="#000"/><rect x="170" y="528" width="1" height="4" fill="#000"/><rect x="224" y="528" width="1" height="4" fill="#000"/><rect x="274" y="528" width="1" height="4" fill="#000"/><rect x="187" y="528" width="1" height="2" fill="#000"/><rect x="196" y="528" width="1" height="2" fill="#000"/><rect x="202" y="528" width="1" height="2" fill="#000"/><rect x="208" y="528" width="1" height="2" fill="#000"/><rect x="212" y="528" width="1" height="2" fill="#000"/><rect x="215" y="528" width="1" height="2" fill="#000"/><rect x="218" y="528" width="1" height="2" fill="#000"/><rect x="221" y="528" width="1" height="2" fill="#000"/><rect x="239" y="528" width="1" height="2" fill="#000"/><rect x="247" y="528" width="1" height="2" fill="#000"/><rect x="254" y="528" width="1" height="2" fill="#000"/><rect x="259" y="528" width="1" height="2" fill="#000"/><rect x="262" y="528" width="1" height="2" fill="#000"/><rect x="266" y="528" width="1" height="2" fill="#000"/><rect x="269" y="528" width="1" height="2" fill="#000"/><rect x="271" y="528" width="1" height="2" fill="#000"/><rect x="131" y="528" width="1" height="2" fill="#000"/><rect x="139" y="528" width="1" height="2" fill="#000"/><rect x="146" y="528" width="1" height="2" fill="#000"/><rect x="152" y="528" width="1" height="2" fill="#000"/><rect x="156" y="528" width="1" height="2" fill="#000"/><rect x="161" y="528" width="1" height="2" fill="#000"/><rect x="164" y="528" width="1" height="2" fill="#000"/><rect x="167" y="528" width="1" height="2" fill="#000"/><rect x="96.5" y="528" width="6.5" height="2" fill="#000"/><rect x="106" y="528" width="1" height="4" fill="#000"/><rect x="108" y="528" width="1.5" height="4" fill="#000"/><rect x="109.5" y="528" width="3.3" height="2" fill="#000"/><rect x="113.8" y="528" width="4.9" height="2" fill="#000"/><text x="86.1" y="551" font-size="10.67" text-anchor="start" fill="#000" >-</text><text x="90.3" y="551" font-size="10.67" text-anchor="start" fill="#000" >10</text><text x="101.8" y="543" font-size="9" text-anchor="start" fill="#000" >2</text><text x="113.5" y="551" font-size="10.67" text-anchor="start" fill="#000" >10</text><text x="124.2" y="543" font-size="9" text-anchor="start" fill="#000" >2</text><text x="163.3" y="551" font-size="10.67" text-anchor="start" fill="#000" >10</text><text x="174.0" y="543" font-size="9" text-anchor="start" fill="#000" >3</text><text x="216.6" y="551" font-size="10.67" text-anchor="start" fill="#000" >10</text><text x="227.3" y="543" font-size="9" text-anchor="start" fill="#000" >4</text><text x="266.7" y="551" font-size="10.67" text-anchor="start" fill="#000" >10</text><text x="277.4" y="543" font-size="9" text-anchor="start" fill="#000" >5</text><text x="183.5" y="564" font-size="13" text-anchor="middle" fill="#000" >APC-H7-A</text><text transform="translate(32.6,429) rotate(-90)" font-size="13" text-anchor="middle">V450-A</text><path d="M118 475h1M103 477h1M117 474h1M112 478h1M97 489h1M101 486h1M104 490h1M109 491h1M115 474h1M107 484h1M115 491h1M96 497h1M85 470h1M105 470h1M111 484h1M105 478h1M100 473h1M111 483h1M122 475h1M107 464h1M103 480h1M102 481h1M123 485h1M108 487h1M113 481h1M117 478h1M116 475h1M101 468h1M115 477h1M114 487h1M112 485h1M116 495h1M104 479h1M107 467h1M104 486h1M114 488h1M103 472h1M111 469h1M100 481h1M107 485h1M105 472h1M107 478h1M109 475h1M107 472h1M106 471h1M92 481h1M116 477h1M103 475h1M106 461h1M102 493h1M115 473h1M101 479h1M112 472h1M117 483h1M120 469h1M117 481h1M113 479h1M99 487h1M118 472h1M117 475h1M114 478h1M114 495h1M109 470h1M104 482h1M118 482h1M100 485h1M115 481h1M110 482h1M115 482h1M110 476h1M116 479h1M116 468h1M115 478h1M98 475h1M108 485h1M100 483h1M113 483h1M98 488h1M115 463h1M121 483h1M104 480h1M115 479h1M111 471h1M113 484h1M113 487h1M109 479h1M114 485h1M116 493h1M110 489h1M118 481h1M110 481h1M116 482h1M112 486h1M104 475h1M114 474h1M108 476h1M111 465h1M100 486h1M111 480h1M118 479h1M105 483h1M95 482h1M110 475h1M103 494h1M122 477h1M108 493h1M104 476h1M104 474h1M102 488h1M108 478h1M102 472h1M118 489h1M100 487h1M108 474h1M103 488h1M98 481h1M121 499h1M93 492h1M119 476h1M98 478h1M109 474h1M125 481h1M93 480h1M98 485h1M110 469h1M108 490h1M101 488h1M119 479h1M105 479h1M109 480h1M117 468h1M123 486h1M104 462h1M105 490h1M104 464h1M96 491h1M94 483h1M109 469h1M117 488h1M113 478h1M107 486h1M108 473h1M122 486h1M106 468h1M105 473h1M96 470h1M111 489h1M106 467h1M122 472h1M106 485h1M114 482h1M115 496h1M120 493h1M99 484h1M120 485h1M108 467h1M107 474h1M106 478h1M106 470h1M91 473h1M112 474h1M109 488h1M101 483h1M125 478h1M111 482h1M105 475h1M121 478h1M102 468h1M104 487h1M107 483h1M114 483h1M103 495h1M107 481h1M109 471h1M103 486h1M109 486h1M101 481h1M107 475h1M102 467h1M104 477h1M107 466h1M102 485h1M119 485h1M115 470h1M109 481h1M115 485h1M111 478h1M106 486h1M128 488h1M105 484h1M113 486h1M125 482h1M111 477h1M116 474h1M117 477h1M113 476h1M120 481h1M112 479h1M127 481h1M110 491h1M109 489h1M118 476h1M103 479h1M112 470h1M107 462h1M104 481h1M106 488h1M107 473h1M104 484h1M113 482h1M100 478h1M99 463h1M123 481h1M106 482h1M107 477h1M115 472h1M99 496h1M100 493h1M132 476h1M108 477h1M109 484h1M115 475h1M110 494h1M113 469h1M109 467h1M91 484h1M98 468h1M105 481h1M120 484h1M105 480h1M108 472h1M118 470h1M106 487h1M99 483h1M106 473h1M112 481h1M100 489h1M114 464h1M114 479h1M124 492h1M104 468h1M96 469h1M109 462h1M111 468h1M108 481h1M104 483h1M110 488h1M113 485h1M117 479h1M95 503h1M104 496h1M104 485h1M116 487h1M114 477h1M107 494h1M109 477h1M106 496h1M106 464h1M112 467h1M111 479h1M101 474h1M108 479h1M89 471h1M109 485h1M107 470h1M116 485h1M124 488h1M115 466h1M112 483h1M110 458h1M116 469h1M97 480h1M106 477h1M113 495h1M102 477h1M103 490h1M111 475h1M119 490h1M103 481h1M110 478h1M112 471h1M118 477h1M93 473h1M95 478h1M113 493h1M111 492h1M117 476h1M108 488h1M100 499h1M105 464h1M108 486h1M109 508h1M118 501h1M109 493h1M98 493h1M108 501h1M99 498h1M98 495h1M97 486h1M105 485h1M119 498h1M107 497h1M101 496h1M124 490h1M111 488h1M113 517h1M113 470h1M120 507h1M116 497h1M114 493h1M101 490h1M103 478h1M107 476h1M111 503h1M109 506h1M105 451h1M95 474h1M101 494h1M112 498h1M111 502h1M109 503h1M94 514h1M99 493h1M103 503h1M121 473h1M101 491h1M99 509h1M104 521h1M111 499h1M92 477h1M86 491h1M109 495h1M103 506h1M116 504h1M116 461h1M92 509h1M107 487h1M117 486h1M103 510h1M106 490h1M116 476h1M103 504h1M98 511h1M113 491h1M95 487h1M116 512h1M109 510h1M97 496h1M116 490h1M117 496h1M119 487h1M110 485h1M113 496h1M105 494h1M117 490h1M111 490h1M112 514h1M102 486h1M105 489h1M98 501h1M107 491h1M115 490h1M107 498h1M118 473h1M117 480h1M88 461h1M106 502h1M120 506h1M89 508h1M114 494h1M101 506h1M105 492h1M93 474h1M110 483h1M102 504h1M114 513h1M111 497h1M108 483h1M110 484h1M120 475h1M106 491h1M128 491h1M95 498h1M113 503h1M110 473h1M99 497h1M106 483h1M99 500h1M113 502h1M116 502h1M104 493h1M103 493h1M102 505h1M128 497h1M108 495h1M116 499h1M127 495h1M118 495h1M97 491h1M108 491h1M105 476h1M98 506h1M100 495h1M97 483h1M112 504h1M108 506h1M82 468h1M102 503h1M105 486h1M130 488h1M108 519h1M105 503h1M108 492h1M116 509h1M115 489h1M119 494h1M110 495h1M100 490h1M94 491h1M103 513h1M111 486h1M117 489h1M104 499h1M102 497h1M114 504h1M111 491h1M119 489h1M111 495h1M108 469h1M92 496h1M109 492h1M104 511h1M107 500h1M107 490h1M98 482h1M120 488h1M108 508h1M118 502h1M100 484h1M111 505h1M118 491h1M96 498h1M97 508h1M97 471h1M110 499h1M101 475h1M114 492h1M99 490h1M93 487h1M120 491h1M101 492h1M108 482h1M110 492h1M101 504h1M117 484h1M110 496h1M95 497h1M94 500h1M86 522h1M107 503h1M106 498h1M114 509h1M106 505h1M102 495h1M113 508h1M106 476h1M115 486h1M102 490h1M100 470h1M106 481h1M112 482h1M105 509h1M112 489h1M120 499h1M118 493h1M107 502h1M109 497h1M131 479h1M106 494h1M113 489h1M97 492h1M100 504h1M101 466h1M94 472h1M118 498h1M104 458h1M109 482h1M105 461h1M119 478h1M116 462h1M104 497h1M90 485h1M119 483h1M129 490h1M95 488h1M120 472h1M122 492h1M112 473h1M123 471h1M119 472h1M99 486h1M95 485h1M112 480h1M109 511h1M111 511h1M104 472h1M95 480h1M116 473h1M129 482h1M93 482h1M96 488h1M99 480h1M115 454h1M109 498h1M117 461h1M110 470h1M95 486h1M123 473h1M100 455h1M127 475h1M109 487h1M128 476h1M81 482h1M90 484h1M105 471h1M124 470h1M108 449h1M116 458h1M104 452h1M110 441h1M109 449h1M106 452h1M109 445h1M103 463h1M107 456h1M90 445h1M161 467h1M177 471h1M222 449h1M106 435h1M107 440h1M107 441h1M106 440h1" stroke="#f00" stroke-width="1" fill="none" transform="translate(0,.5)"/><path d="M191 390h1M182 394h1M184 384h1M192 394h1M178 393h1M188 378h1M187 396h1M183 399h1M180 396h1M188 384h1M179 398h1M179 404h1M195 389h1M182 400h1M174 392h1M192 391h1M182 397h1M166 393h1M186 381h1M192 382h1M188 388h1M196 386h1M186 388h1M190 387h1M180 392h1M187 389h1M195 387h1M189 390h1M187 388h1M175 397h1M184 388h1M191 384h1M182 401h1M180 394h1M197 378h1M179 391h1M187 390h1M202 380h1M188 385h1M181 386h1M192 386h1M191 389h1M175 403h1M188 387h1M174 386h1M197 382h1M187 379h1M147 397h1M199 367h1M199 381h1M198 384h1M198 386h1M175 408h1" stroke="#00f" stroke-width="1" fill="none" transform="translate(0,.5)"/><rect x="143.7" y="356.5" width="80.8" height="63.5" fill="none" stroke="#00f" stroke-width="3"/><text x="137.2" y="348" font-size="13" text-anchor="start" fill="#00f" >Cells</text><text x="171.5" y="348" font-size="13" text-anchor="start" fill="#00f" >of</text><text x="186.5" y="348" font-size="13" text-anchor="start" fill="#00f" >Interest</text><rect x="358" y="331" width="2" height="197" fill="#000"/><rect x="358" y="526" width="224" height="2" fill="#000"/><rect x="358" y="331" width="224" height="1" fill="#000"/><rect x="581" y="331" width="1" height="197" fill="#000"/><rect x="459" y="331" width="1" height="195" fill="#000"/><rect x="358" y="434" width="223" height="1" fill="#000"/><rect x="354" y="350" width="4" height="1" fill="#000"/><rect x="354" y="393" width="4" height="1" fill="#000"/><rect x="354" y="438" width="4" height="1" fill="#000"/><rect x="354" y="486" width="4" height="1" fill="#000"/><rect x="354" y="520" width="4" height="1" fill="#000"/><rect x="356.5" y="380" width="1.5" height="1" fill="#000"/><rect x="356.5" y="373" width="1.5" height="1" fill="#000"/><rect x="356.5" y="367" width="1.5" height="1" fill="#000"/><rect x="356.5" y="363" width="1.5" height="1" fill="#000"/><rect x="356.5" y="359" width="1.5" height="1" fill="#000"/><rect x="356.5" y="356" width="1.5" height="1" fill="#000"/><rect x="356.5" y="354" width="1.5" height="1" fill="#000"/><rect x="356.5" y="352" width="1.5" height="1" fill="#000"/><rect x="356.5" y="425" width="1.5" height="1" fill="#000"/><rect x="356.5" y="417" width="1.5" height="1" fill="#000"/><rect x="356.5" y="411" width="1.5" height="1" fill="#000"/><rect x="356.5" y="407" width="1.5" height="1" fill="#000"/><rect x="356.5" y="403" width="1.5" height="1" fill="#000"/><rect x="356.5" y="400" width="1.5" height="1" fill="#000"/><rect x="356.5" y="398" width="1.5" height="1" fill="#000"/><rect x="356.5" y="395" width="1.5" height="1" fill="#000"/><rect x="356.5" y="472" width="1.5" height="1" fill="#000"/><rect x="356.5" y="463" width="1.5" height="1" fill="#000"/><rect x="356.5" y="457" width="1.5" height="1" fill="#000"/><rect x="356.5" y="453" width="1.5" height="1" fill="#000"/><rect x="356.5" y="449" width="1.5" height="1" fill="#000"/><rect x="356.5" y="445" width="1.5" height="1" fill="#000"/><rect x="356.5" y="443" width="1.5" height="1" fill="#000"/><rect x="356.5" y="440" width="1.5" height="1" fill="#000"/><rect x="356.5" y="491" width="1.5" height="1" fill="#000"/><rect x="356.5" y="494" width="1.5" height="1" fill="#000"/><rect x="356.5" y="496" width="1.5" height="1" fill="#000"/><rect x="356.5" y="499" width="1.5" height="1" fill="#000"/><rect x="356.5" y="501" width="1.5" height="1" fill="#000"/><rect x="356.5" y="503" width="1.5" height="1" fill="#000"/><rect x="356.5" y="506" width="1.5" height="1" fill="#000"/><rect x="356.5" y="508" width="1.5" height="1" fill="#000"/><rect x="356.5" y="511" width="1.5" height="1" fill="#000"/><rect x="356.5" y="513" width="1.5" height="1" fill="#000"/><rect x="356.5" y="515" width="1.5" height="1" fill="#000"/><rect x="356.5" y="518" width="1.5" height="1" fill="#000"/><rect x="355" y="501" width="3" height="2" fill="#000"/><rect x="355" y="505" width="3" height="1" fill="#000"/><text x="336.6" y="354.20000000000005" font-size="10.67" text-anchor="start" fill="#000" >10</text><text x="348.2" y="345.6" font-size="9" text-anchor="start" fill="#000" >5</text><text x="336.6" y="398.0" font-size="10.67" text-anchor="start" fill="#000" >10</text><text x="348.2" y="389.4" font-size="9" text-anchor="start" fill="#000" >4</text><text x="336.6" y="442.6" font-size="10.67" text-anchor="start" fill="#000" >10</text><text x="348.2" y="434" font-size="9" text-anchor="start" fill="#000" >3</text><text x="336.6" y="491.0" font-size="10.67" text-anchor="start" fill="#000" >10</text><text x="348.2" y="482.4" font-size="9" text-anchor="start" fill="#000" >2</text><text x="333.1" y="524.9" font-size="10.67" text-anchor="start" fill="#000" >-10</text><text x="348.2" y="516.3" font-size="9" text-anchor="start" fill="#000" >2</text><rect x="370" y="528" width="1" height="4" fill="#000"/><rect x="407" y="528" width="1" height="4" fill="#000"/><rect x="459" y="528" width="1" height="4" fill="#000"/><rect x="512" y="528" width="1" height="4" fill="#000"/><rect x="560" y="528" width="1" height="4" fill="#000"/><rect x="475" y="528" width="1" height="2" fill="#000"/><rect x="484" y="528" width="1" height="2" fill="#000"/><rect x="491" y="528" width="1" height="2" fill="#000"/><rect x="496" y="528" width="1" height="2" fill="#000"/><rect x="500" y="528" width="1" height="2" fill="#000"/><rect x="504" y="528" width="1" height="2" fill="#000"/><rect x="507" y="528" width="1" height="2" fill="#000"/><rect x="509" y="528" width="1" height="2" fill="#000"/><rect x="526" y="528" width="1" height="2" fill="#000"/><rect x="535" y="528" width="1" height="2" fill="#000"/><rect x="541" y="528" width="1" height="2" fill="#000"/><rect x="546" y="528" width="1" height="2" fill="#000"/><rect x="550" y="528" width="1" height="2" fill="#000"/><rect x="553" y="528" width="1" height="2" fill="#000"/><rect x="556" y="528" width="1" height="2" fill="#000"/><rect x="558" y="528" width="1" height="2" fill="#000"/><rect x="423" y="528" width="1" height="2" fill="#000"/><rect x="432" y="528" width="1" height="2" fill="#000"/><rect x="439" y="528" width="1" height="2" fill="#000"/><rect x="444" y="528" width="1" height="2" fill="#000"/><rect x="448" y="528" width="1" height="2" fill="#000"/><rect x="451" y="528" width="1" height="2" fill="#000"/><rect x="454" y="528" width="1" height="2" fill="#000"/><rect x="457" y="528" width="1" height="2" fill="#000"/><rect x="374" y="528" width="1" height="2" fill="#000"/><rect x="377" y="528" width="1" height="2" fill="#000"/><rect x="379" y="528" width="1" height="2" fill="#000"/><rect x="381" y="528" width="1" height="2" fill="#000"/><rect x="384" y="528" width="1" height="2" fill="#000"/><rect x="386" y="528" width="1" height="2" fill="#000"/><rect x="388" y="528" width="1" height="2" fill="#000"/><rect x="390" y="528" width="1" height="2" fill="#000"/><rect x="393" y="528" width="1" height="2" fill="#000"/><rect x="395" y="528" width="1" height="2" fill="#000"/><rect x="397" y="528" width="1" height="2" fill="#000"/><rect x="400" y="528" width="1" height="2" fill="#000"/><rect x="402" y="528" width="1" height="2" fill="#000"/><rect x="404" y="528" width="1" height="2" fill="#000"/><text x="361.0" y="551" font-size="10.67" text-anchor="start" fill="#000" >-</text><text x="365.2" y="551" font-size="10.67" text-anchor="start" fill="#000" >10</text><text x="376.7" y="543" font-size="9" text-anchor="start" fill="#000" >2</text><text x="384.2" y="551" font-size="10.67" text-anchor="start" fill="#000" >10</text><text x="394.9" y="543" font-size="9" text-anchor="start" fill="#000" >1</text><text x="452.5" y="551" font-size="10.67" text-anchor="start" fill="#000" >10</text><text x="463.2" y="543" font-size="9" text-anchor="start" fill="#000" >3</text><text x="504.7" y="551" font-size="10.67" text-anchor="start" fill="#000" >10</text><text x="515.4" y="543" font-size="9" text-anchor="start" fill="#000" >4</text><text x="553.5" y="551" font-size="10.67" text-anchor="start" fill="#000" >10</text><text x="564.2" y="543" font-size="9" text-anchor="start" fill="#000" >5</text><text x="471" y="564" font-size="13" text-anchor="middle" fill="#000" >APC-A</text><text transform="translate(319.3,429) rotate(-90)" font-size="13" text-anchor="middle">PE-A</text><text x="361" y="347" font-size="13.33" text-anchor="start" fill="#000" >31.76%</text><text x="578.5" y="347" font-size="13.33" text-anchor="end" fill="#000" >4.71%</text><text x="361" y="523" font-size="13.33" text-anchor="start" fill="#000" >3.53%</text><text x="578.5" y="523" font-size="13.33" text-anchor="end" fill="#000" >60.00%</text><path d="M395 380h1M406 364h1M426 359h1M432 364h1M436 368h1M430 376h1M429 379h1M431 387h1M432 388h1M434 390h1M436 390h1M432 395h1M457 365h1M456 375h1M455 399h1M453 415h1M456 422h1M408 421h1M415 427h1M427 434h1M467 369h1M477 364h1M473 392h1M537 430h1M466 468h1M474 475h1M489 484h1M482 447h1M494 455h1M518 455h1M529 455h1M491 466h1M495 469h1M496 469h1M501 475h1M498 478h1M505 471h1M510 464h1M516 467h1M507 476h1M512 476h1M513 479h1M506 482h1M514 482h1M518 484h1M514 488h1M515 491h1M524 467h1M529 469h1M532 469h1M534 464h1M529 477h1M531 476h1M534 479h1M528 488h1M525 490h1M523 481h1M515 514h1M519 473h1M502 469h1" stroke="#00f" stroke-width="1" fill="none" transform="translate(0,.5)"/></svg>
<div class="ttl" style="left:43px;top:3px;width:211px">Normal2_Tube 1.fcs compensated No Gate</div>
<div class="ttl" style="left:333px;top:3px;width:210px">Normal2_Tube 1.fcs compensated Lymphs</div>
<div class="ttl" style="left:52px;top:301px;width:210px">Normal2_Tube 2.fcs compensated Lymphs</div>
<div class="ttl" style="left:321px;top:301px;width:247px">Normal2_Tube 2.fcs compensated Cells of Interest</div>
<table class="st" style="left:614px;top:76px;width:147px"><colgroup><col style="width:33px"><col style="width:43px"><col style="width:39px"><col style="width:32px"></colgroup><tr><th>Gate</th><th># of<br>Events</th><th>% of<br>Gated<br>Cells</th><th>% of<br>All<br>Cells</th></tr><tr><td>UL</td><td>189</td><td>20.32</td><td>1.89</td></tr><tr><td>UR</td><td>5</td><td>0.54</td><td>0.05</td></tr><tr><td>LL</td><td>223</td><td>23.98</td><td>2.23</td></tr><tr><td>LR</td><td>513</td><td>55.16</td><td>5.13</td></tr></table>
<table class="st" style="left:617px;top:347px;width:147px"><colgroup><col style="width:33px"><col style="width:43px"><col style="width:39px"><col style="width:32px"></colgroup><tr><th>Gate</th><th># of<br>Events</th><th>% of<br>Gated<br>Cells</th><th>% of<br>All<br>Cells</th></tr><tr><td>UL</td><td>27</td><td>31.76</td><td>0.27</td></tr><tr><td>UR</td><td>4</td><td>4.71</td><td>0.04</td></tr><tr><td>LL</td><td>3</td><td>3.53</td><td>0.03</td></tr><tr><td>LR</td><td>51</td><td>60.00</td><td>0.51</td></tr></table>
<div id="dlg"><div class="cap">Data List</div><div class="close"><svg width="15" height="15" viewBox="0 0 15 15" style="position:absolute;left:0;top:0"><path transform="translate(7.5,7.6)" d="M-3.4-3.1h2.7l.7 1.2 .7-1.2h2.7l-2.2 3.1 2.2 3.1h-2.7l-.7-1.2-.7 1.2h-2.7l2.2-3.1z" fill="#fff" stroke="#42526c" stroke-width=".8" stroke-linejoin="round"/></svg></div><div id="inner"><div id="inner2"></div><div id="tb"></div><div id="hdr"></div><div class="hs" style="left:32px"></div><div class="hs" style="left:92px"></div><div class="hs" style="left:192px"></div><div class="hs" style="left:315px"></div><div class="hs" style="left:400px"></div><div class="h" style="left:38.5px;transform:scaleX(1.0)">Iteration</div><div class="h" style="left:99.5px;transform:scaleX(0.885)">Tube</div><div class="h" style="left:199.5px;transform:scaleX(0.894)">File Name</div><div class="h" style="left:322px;transform:scaleX(0.85)">$SRC</div><div class="row" style="left:3px;top:49px;background:#0ff"><div class="c" style="left:40px;color:#1565c0">1</div><div class="c" style="left:97.29999999999995px;transform:scaleX(.887)">1 (T cell markers)</div><div class="c" style="left:197.70000000000005px;color:#000;transform:scaleX(.905)">Normal2_Tube 1.fcs</div><div class="c" style="left:321.5px;transform:scaleX(.915)">Normal2</div></div><div class="row" style="left:3px;top:67px;background:#0ff"><div style="position:absolute;left:194px;top:0;width:107px;height:18px;background:#3399ff"></div><div class="c" style="left:97.29999999999995px;transform:scaleX(.887)">2 (B cell markers)</div><div class="c" style="left:197.70000000000005px;color:#fff;transform:scaleX(.905)">Normal2_Tube 2.fcs</div><div class="c" style="left:321.5px;transform:scaleX(.915)">Normal2</div></div><div class="row" style="left:3px;top:85px;background:#f0f0f0"><div class="c" style="left:40px;color:#1565c0">2</div><div class="c" style="left:97.29999999999995px;transform:scaleX(.887)">1 (T cell markers)</div><div class="c" style="left:197.70000000000005px;color:#000;transform:scaleX(.905)">Normal3_Tube 1.fcs</div><div class="c" style="left:321.5px;transform:scaleX(.915)">Normal3</div></div><div class="row" style="left:3px;top:103px;background:#f0f0f0"><div class="c" style="left:97.29999999999995px;transform:scaleX(.887)">2 (B cell markers)</div><div class="c" style="left:197.70000000000005px;color:#000;transform:scaleX(.905)">Normal3_Tube 2.fcs</div><div class="c" style="left:321.5px;transform:scaleX(.915)">Normal3</div></div></div></div>
<svg width="1021" height="734" viewBox="0 0 1021 734" style="position:absolute;left:0;top:0"><defs><linearGradient id="gG" x1="0" y1="0" x2="0" y2="1"><stop offset="0" stop-color="#6fd36f"/><stop offset=".5" stop-color="#34b034"/><stop offset="1" stop-color="#1e8a1e"/></linearGradient><linearGradient id="gB" x1="0" y1="0" x2="0" y2="1"><stop offset="0" stop-color="#3c68d0"/><stop offset=".5" stop-color="#1450d0"/><stop offset=".68" stop-color="#1762e4"/><stop offset=".88" stop-color="#3aa4ff"/><stop offset="1" stop-color="#86d8ff"/></linearGradient><linearGradient id="gR" x1="0" y1="0" x2="0" y2="1"><stop offset="0" stop-color="#f27a7a"/><stop offset=".5" stop-color="#dc2626"/><stop offset="1" stop-color="#b91414"/></linearGradient><linearGradient id="gY" x1="0" y1="0" x2="0" y2="1"><stop offset="0" stop-color="#f5e067"/><stop offset="1" stop-color="#e3bf28"/></linearGradient><linearGradient id="gO" x1="0" y1="0" x2="0" y2="1"><stop offset="0" stop-color="#ffc76a"/><stop offset="1" stop-color="#e8901c"/></linearGradient><linearGradient id="gP" x1="0" y1="0" x2="0" y2="1"><stop offset="0" stop-color="#ffe3bd"/><stop offset="1" stop-color="#ffd8a6"/></linearGradient><radialGradient id="gM" cx=".4" cy=".35" r=".7"><stop offset="0" stop-color="#fff"/><stop offset="1" stop-color="#d4e4f4"/></radialGradient><linearGradient id="gH" x1="0" y1="0" x2="1" y2="1"><stop offset="0" stop-color="#d4d4d8"/><stop offset="1" stop-color="#ffffff"/></linearGradient></defs><path d="M620 583.1v11.8M614.1 589h11.8" stroke="#146e18" stroke-width="4.2" stroke-linecap="round"/><path d="M620 583.3v11.4M614.3 589h11.4" stroke="#48c048" stroke-width="2.2" stroke-linecap="round"/><path d="M619.7 583.4v4.6M614.6 588.7h4" stroke="#a4eea4" stroke-width="1" stroke-linecap="round"/><polygon points="643.6,581.1 646.4,581.1 646.7,583.6 647.7,584.0 649.6,582.5 651.5,584.4 650.0,586.3 650.4,587.3 652.9,587.6 652.9,590.4 650.4,590.7 650.0,591.7 651.5,593.6 649.6,595.5 647.7,594.0 646.7,594.4 646.4,596.9 643.6,596.9 643.3,594.4 642.3,594.0 640.4,595.5 638.5,593.6 640.0,591.7 639.6,590.7 637.1,590.4 637.1,587.6 639.6,587.3 640.0,586.3 638.5,584.4 640.4,582.5 642.3,584.0 643.3,583.6" fill="url(#gY)" stroke="#d4b022" stroke-width="1.1" stroke-linejoin="round"/><circle cx="645" cy="589" r="4.6" fill="none" stroke="#f3e264" stroke-width="1.4"/><rect x="642" y="586" width="6" height="6" rx="1.6" fill="url(#gH)" stroke="#d8b62a" stroke-width="1"/><circle cx="670" cy="589" r="7.4" fill="url(#gB)" stroke="#0f22a2" stroke-width="1.5"/><path d="M663.4 588.8a6.6 6.6 0 0 1 13.2 0z" fill="#9fb4e0" opacity=".55"/><path d="M670 583.6l4.4 4.6h-3.2v5.8h-2.4v-5.8h-3.2z" fill="#fff"/><rect x="683.5" y="577.5" width="24" height="24" fill="url(#gP)" stroke="#00007c" stroke-width="1"/><circle cx="695" cy="589" r="7.4" fill="url(#gB)" stroke="#0f22a2" stroke-width="1.5"/><path d="M688.4 588.8a6.6 6.6 0 0 1 13.2 0z" fill="#9fb4e0" opacity=".55"/><path d="M695 594.4l4.4 -4.6h-3.2v-5.8h-2.4v5.8h-3.2z" fill="#fff"/><rect x="719.5" y="587.5" width="8" height="9" fill="#f2f2f2" stroke="#939393" stroke-width="1"/><rect x="712.5" y="581.5" width="10" height="9" fill="#3a4a6c" stroke="#7e868e" stroke-width="1"/><rect x="713.2" y="582.2" width="8.6" height="2.2" fill="#4668b8"/><rect x="713.6" y="588.2" width="7.8" height="1.4" fill="#f0f0f0"/><path d="M715 585v2.6M716.7 585v2.6M718.7 585v2.6M720.4 585v2.6M714 586.3h7.4" stroke="#dfe6f0" stroke-width=".6"/><path d="M719.2 581.2C721.5 580.8 723.3 581.3 724.3 582.6C725.2 583.7 725.6 584.8 725.6 585.9L727.2 586.3L723.2 590.8L719 586.8L721.2 586.4C721.3 585.2 721 584.4 720.6 583.9C720.2 583.4 719.7 583.1 719.2 582.9Z" fill="#4ccc4c" stroke="#0c6c10" stroke-width=".9" stroke-linejoin="round"/><path d="M747.3 591l3.9 4.7" stroke="#9a9a9a" stroke-width="2.6" stroke-linecap="round"/><path d="M747.6 591.4l3.4 4" stroke="#d6d6d6" stroke-width="1" stroke-linecap="round"/><circle cx="743.5" cy="586.8" r="5" fill="url(#gM)" stroke="#a9a9a9" stroke-width="1.3"/><path d="M765.1 581.6l4.9 4.6 4.9-4.6 3.2 3.2-4.7 4.7 4.7 4.7-3.2 3.2-4.9-4.7-4.9 4.7-3.2-3.2 4.7-4.7-4.7-4.7z" fill="url(#gR)" stroke="#b51717" stroke-width="1" stroke-linejoin="round"/><path d="M789.8 581.8l3 3.1h-1.5v2.6h-3v-2.6h-1.5z" fill="url(#gO)" stroke="#c8801a" stroke-width=".9" stroke-linejoin="round"/><path d="M789.8 596.8l3-3.1h-1.5v-2.6h-3v2.6h-1.5z" fill="url(#gO)" stroke="#c8801a" stroke-width=".9" stroke-linejoin="round"/><rect x="794" y="582" width="8" height="1" fill="#6d8f9e"/><rect x="794" y="584" width="8" height="1" fill="#6d8f9e"/><rect x="794" y="586" width="4.5" height="1" fill="#6d8f9e"/><rect x="794" y="588" width="4.5" height="1" fill="#6d8f9e"/><rect x="794" y="590" width="8" height="1" fill="#6d8f9e"/><rect x="794" y="592" width="8" height="1" fill="#6d8f9e"/><rect x="794" y="594" width="4.5" height="1" fill="#6d8f9e"/><rect x="794" y="596" width="4.5" height="1" fill="#6d8f9e"/><rect x="810" y="579" width="1" height="21" fill="#55657d"/><path d="M820 581h16v16h-13.2l-2.8-3.2z" fill="#fffbe8"/><polygon points="826,584 829,586.6 832.6,588 826.2,592.9 823,590" fill="#fff"/><polygon points="828.6,587 831.2,588 825.6,592.2 824.3,591" fill="#f0ea78"/><path d="M825.9 584.2L823 589.8" stroke="#c4bc3c" stroke-width="1.1" stroke-dasharray="1 .5"/><path d="M832.4 588.3L826 592.9" stroke="#aaa230" stroke-width="1.1" stroke-dasharray="1 .5"/><polygon points="823,589.8 826.2,592.8 820.2,596.2" fill="#26266a"/><path d="M826.2 593.2L821.6 596" stroke="#000" stroke-width="1" stroke-dasharray=".9 .7"/><path d="M820.1 596l1.6-.8" stroke="#703000" stroke-width="1.1"/><polygon points="826,582.1 827.5,581 836,581 836,585.6 833.6,588 829,586.6 826.7,583.7" fill="#0a48b4"/><polygon points="836,582.2 836,585.6 833.6,588 831.4,587.3" fill="#04348c"/><path d="M826.9 582.8L829.9 581.4" stroke="#22c4c4" stroke-width="1.1"/><path d="M694.5 596.6V612.8L698.2 609.4L700.6 614.9L703 613.9L700.7 608.5L705.9 608.3z" fill="#fff" stroke="#000" stroke-width="1" stroke-linejoin="miter"/></svg>
<svg width="1021" height="734" viewBox="0 0 1021 734" style="position:absolute;left:0;top:0"><rect x="794.5" y="621.5" width="119" height="40" fill="none" stroke="#e5423c" stroke-width="3"/><line x1="755" y1="541.8" x2="718.2" y2="570.05" stroke="#c00000" stroke-width="4.2"/><polygon points="706.3,579 713.7,563.9 722.7,576.2" fill="#c00000"/><line x1="952.8" y1="586.2" x2="915.55" y2="630.65" stroke="#c00000" stroke-width="4.2"/><polygon points="905.8,641.9 909.4,626 921.7,635.3" fill="#c00000"/></svg></body></html>
